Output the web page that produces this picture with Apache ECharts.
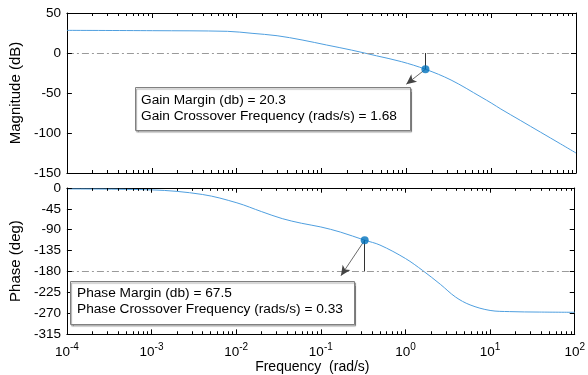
<!DOCTYPE html>
<html><head><meta charset="utf-8">
<script src="https://cdn.jsdelivr.net/npm/echarts@6/dist/echarts.min.js"></script>
<style>html,body{margin:0;padding:0;background:#fff}#c{width:588px;height:375px}</style>
</head><body><div id="c"></div>
<script>
// ---- data ----
const magFreq = [0.0001, 0.00102, 0.0078, 0.0152, 0.030, 0.059, 0.115, 0.227, 0.445, 0.874, 1.68, 3.37, 7.6, 10.2, 13, 22.3, 38.2, 65.5, 100];
const magDb   = [28.3, 27.9, 27.1, 24.6, 21.6, 16.3, 10.0, 3.6, -3.5, -10.8, -20.3, -33.8, -55, -63, -70, -84.5, -99, -113.5, -125];
const phaseFreq = [0.0001, 0.001, 0.004, 0.0102, 0.02, 0.035, 0.059, 0.1, 0.17, 0.33, 0.5, 1.0, 1.6, 2.6, 3.9, 5.8, 10, 17, 38, 100];
const phaseDeg  = [-2, -4, -14, -32, -51, -66, -76, -84, -95, -112.5, -123, -152, -178, -208, -235, -252, -264, -266.5, -267.5, -268];
const magTicks = [50, 0, -50, -100, -150];
const phaseTicks = [0, -45, -90, -135, -180, -225, -270, -315];
const freqTicks = [1e-4, 1e-3, 1e-2, 1e-1, 1e0, 1e1, 1e2];
const freqMin = 1e-4, freqMax = 1e2;
const gainMarginDb = 20.3, gainCrossFreq = 1.68, gainAtCross = -20.3;
const phaseMarginDeg = 67.5, phaseCrossFreq = 0.33, phaseAtCross = -112.5;
const gainArrowEnd = [1.0, -39];
const phaseArrowEnd = [0.173, -189];
const gainRef = 0, phaseRef = -180;

// ---- layout / styling ----
const FONT = '"Liberation Sans", Arial, Helvetica, sans-serif';
const lineColor = '#4f9fdf';
const markColor = '#0072BD';
const G_LEFT = 64, G_RIGHT = 12, G0_TOP = 13, G0_H = 160, G1_TOP = 188, G1_H = 154.5;
const PLOT_W = 588 - G_LEFT - G_RIGHT;
const minorFreqs = [];
for (let i = 0; i < freqTicks.length - 1; i++) for (let m = 2; m <= 9; m++) minorFreqs.push(m * freqTicks[i]);
const magMin = Math.min(...magTicks), magMax = Math.max(...magTicks);
const phMin = Math.min(...phaseTicks), phMax = Math.max(...phaseTicks);

function xAx(grid, pos, labels) {
  return {
    type: 'log', logBase: 10, gridIndex: grid, position: pos, min: freqMin, max: freqMax,
    axisLine: {show: true, onZero: false, lineStyle: {color: '#000', width: 1}},
    axisTick: {show: false}, minorTick: {show: false},
    splitLine: {show: false}, minorSplitLine: {show: false},
    axisLabel: labels ? {
      show: true, margin: 8, showMinLabel: true, showMaxLabel: true, color: '#000',
      formatter: v => '{b|10}{s|' + Math.round(Math.log10(v)) + '}',
      rich: {
        b: {fontSize: 13.5, fontFamily: FONT, color: '#000', verticalAlign: 'bottom'},
        s: {fontSize: 10, fontFamily: FONT, color: '#000', verticalAlign: 'bottom', padding: [0, 0, 7, 0]}
      }
    } : {show: false},
    name: labels ? 'Frequency  (rad/s)' : '', nameLocation: 'middle', nameGap: 17,
    nameTextStyle: {fontSize: 14, fontFamily: FONT, color: '#000', padding: [0, 17, 0, 0]}
  };
}
function yAx(grid, pos, ticks, name) {
  return {
    type: 'value', gridIndex: grid, position: pos, min: Math.min(...ticks), max: Math.max(...ticks), interval: Math.abs(ticks[1] - ticks[0]),
    axisLine: {show: true, onZero: false, lineStyle: {color: '#000', width: 1}},
    axisTick: {show: false},
    splitLine: {show: false},
    axisLabel: name ? {show: true, margin: 6, fontSize: 13.5, fontFamily: FONT, color: '#000', showMinLabel: true, showMaxLabel: true} : {show: false},
    name: name || '', nameLocation: 'middle', nameGap: 40, nameRotate: 90,
    nameTextStyle: {fontSize: 15, fontFamily: FONT, color: '#000'}
  };
}
// inward tick marks on all four sides, as mark-line segments placed in data units
const tickStyle = {color: '#000', width: 1, type: 'solid'};
function seg(a, b) {
  return [{coord: a, symbol: 'none', lineStyle: tickStyle}, {coord: b, symbol: 'none'}];
}
function frameTicks(ticks, ymin, ymax, plotH) {
  const perPx = (ymax - ymin) / plotH;
  const out = [];
  const xTick = (f, len) => {
    out.push(seg([f, ymin], [f, ymin + len * perPx]));
    out.push(seg([f, ymax], [f, ymax - len * perPx]));
  };
  freqTicks.forEach(f => xTick(f, 5));
  minorFreqs.forEach(f => xTick(f, 3));
  const k = Math.pow(10, 5 * Math.log10(freqMax / freqMin) / PLOT_W);
  ticks.forEach(v => {
    out.push(seg([freqMin, v], [freqMin * k, v]));
    out.push(seg([freqMax, v], [freqMax / k, v]));
  });
  return out;
}
const dashDot = {color: '#9a9a9a', width: 1, type: [7, 3, 2, 3]};

const chart = echarts.init(document.getElementById('c'), null, {renderer: 'canvas'});
chart.setOption({
  animation: false,
  grid: [
    {left: G_LEFT, right: G_RIGHT, top: G0_TOP, height: G0_H},
    {left: G_LEFT, right: G_RIGHT, top: G1_TOP, height: G1_H}
  ],
  xAxis: [xAx(0, 'bottom', false), xAx(0, 'top', false), xAx(1, 'bottom', true), xAx(1, 'top', false)],
  yAxis: [
    yAx(0, 'left', magTicks, 'Magnitude (dB)'),
    yAx(0, 'right', magTicks, null),
    yAx(1, 'left', phaseTicks, 'Phase (deg)'),
    yAx(1, 'right', phaseTicks, null)
  ],
  series: [
    {
      type: 'line', xAxisIndex: 0, yAxisIndex: 0, smooth: 0.35, showSymbol: false, z: 3,
      data: magFreq.map((f, i) => [f, magDb[i]]),
      lineStyle: {color: lineColor, width: 1},
      markLine: {silent: true, symbol: 'none', label: {show: false}, lineStyle: dashDot, data: [{yAxis: gainRef}]}
    },
    {
      type: 'line', xAxisIndex: 2, yAxisIndex: 2, smooth: 0.35, showSymbol: false, z: 3,
      data: phaseFreq.map((f, i) => [f, phaseDeg[i]]),
      lineStyle: {color: lineColor, width: 1},
      markLine: {silent: true, symbol: 'none', label: {show: false}, lineStyle: dashDot, data: [{yAxis: phaseRef}]}
    },
    {
      type: 'scatter', xAxisIndex: 0, yAxisIndex: 0, symbol: 'circle', symbolSize: 8, z: 6,
      itemStyle: {color: markColor}, data: [[gainCrossFreq, gainAtCross]],
      markLine: {silent: true, label: {show: false}, animation: false,
        data: [
          [{coord: [gainCrossFreq, gainRef], symbol: 'none', lineStyle: {color: '#333', width: 1, type: 'solid'}},
           {coord: [gainCrossFreq, gainAtCross], symbol: 'none'}],
          [{coord: [gainCrossFreq, gainAtCross], symbol: 'none', lineStyle: {color: '#444', width: 0.8, type: 'solid'}},
           {coord: gainArrowEnd, symbol: 'arrow', symbolSize: [7, 10], itemStyle: {color: '#000'}}]
        ].concat(frameTicks(magTicks, magMin, magMax, G0_H))}
    },
    {
      type: 'scatter', xAxisIndex: 2, yAxisIndex: 2, symbol: 'circle', symbolSize: 8, z: 6,
      itemStyle: {color: markColor}, data: [[phaseCrossFreq, phaseAtCross]],
      markLine: {silent: true, label: {show: false}, animation: false,
        data: [
          [{coord: [phaseCrossFreq, phaseRef], symbol: 'none', lineStyle: {color: '#333', width: 1, type: 'solid'}},
           {coord: [phaseCrossFreq, phaseAtCross], symbol: 'none'}],
          [{coord: [phaseCrossFreq, phaseAtCross], symbol: 'none', lineStyle: {color: '#444', width: 0.8, type: 'solid'}},
           {coord: phaseArrowEnd, symbol: 'arrow', symbolSize: [7, 10], itemStyle: {color: '#000'}}]
        ].concat(frameTicks(phaseTicks, phMin, phMax, G1_H))}
    }
  ],
  graphic: [
    {type: 'rect', z: 20, shape: {x: 135.5, y: 87.5, width: 275, height: 43},
      style: {fill: '#fff', stroke: '#808080', lineWidth: 1, shadowColor: 'rgba(0,0,0,0.35)', shadowOffsetX: 1, shadowOffsetY: 1.5, shadowBlur: 1}},
    {type: 'text', z: 21, x: 141, y: 100, style: {text: 'Gain Margin (db) = ' + gainMarginDb, font: '13.7px ' + FONT, fill: '#000', verticalAlign: 'middle'}},
    {type: 'text', z: 21, x: 141, y: 116, style: {text: 'Gain Crossover Frequency (rads/s) = ' + gainCrossFreq, font: '13.7px ' + FONT, fill: '#000', verticalAlign: 'middle'}},
    {type: 'rect', z: 20, shape: {x: 70.5, y: 281.5, width: 284, height: 43},
      style: {fill: '#fff', stroke: '#808080', lineWidth: 1, shadowColor: 'rgba(0,0,0,0.35)', shadowOffsetX: 1, shadowOffsetY: 1.5, shadowBlur: 1}},
    {type: 'text', z: 21, x: 77, y: 293.5, style: {text: 'Phase Margin (db) = ' + phaseMarginDeg, font: '13.7px ' + FONT, fill: '#000', verticalAlign: 'middle'}},
    {type: 'text', z: 21, x: 77, y: 309.5, style: {text: 'Phase Crossover Frequency (rads/s) = ' + phaseCrossFreq, font: '13.7px ' + FONT, fill: '#000', verticalAlign: 'middle'}}
  ]
});
</script></body></html>
